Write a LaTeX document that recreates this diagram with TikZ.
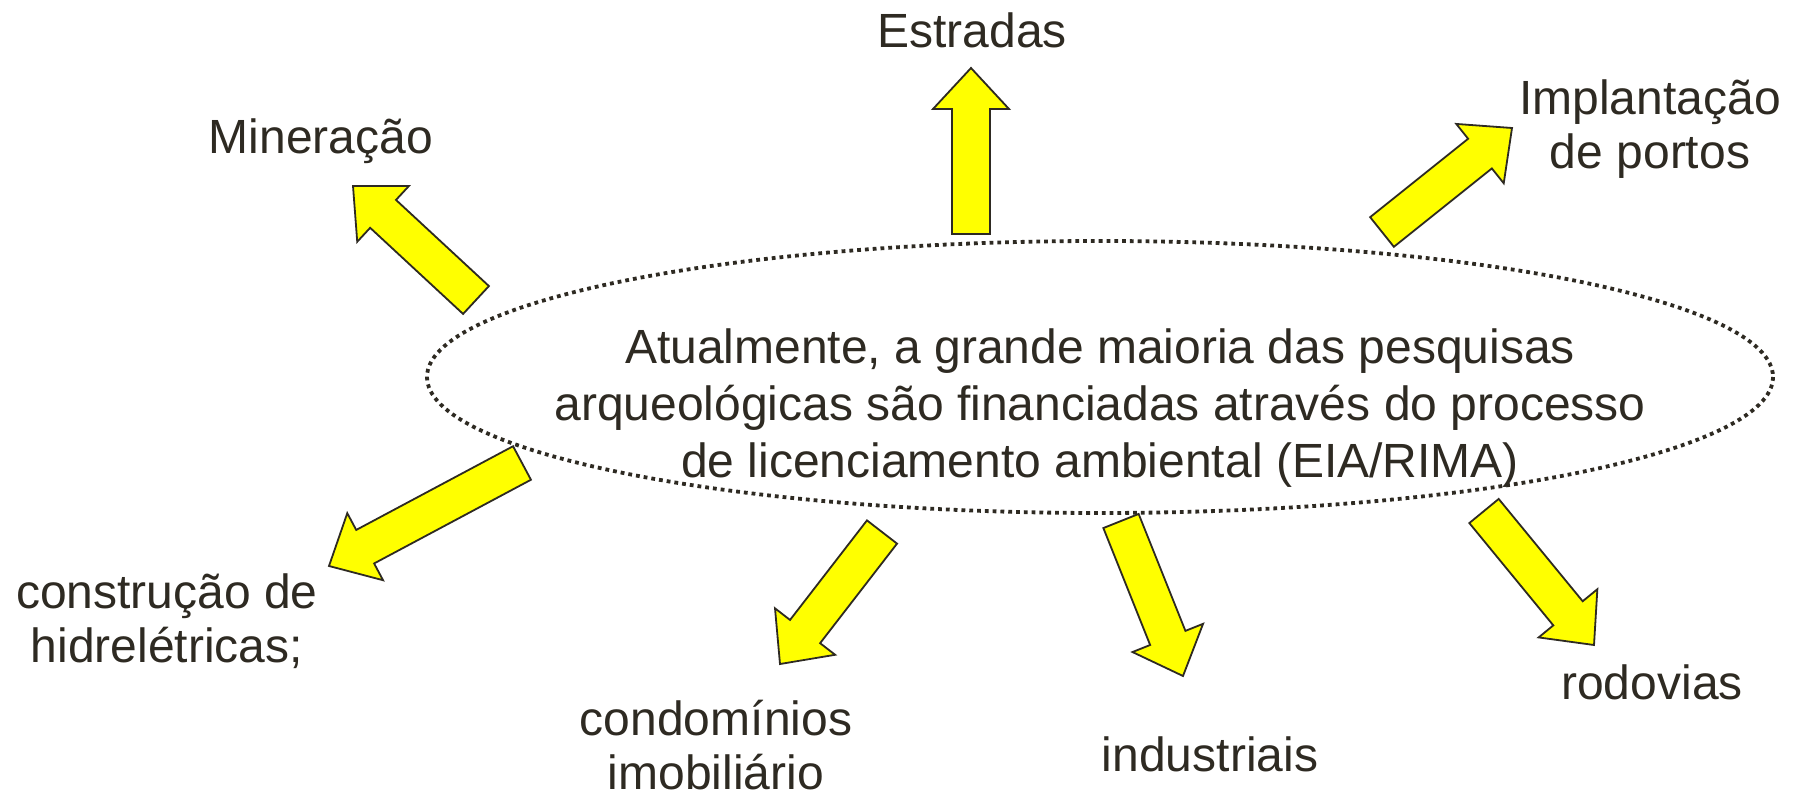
\documentclass[tikz,border=0pt]{standalone}
\usepackage{fontspec}
\setmainfont{Liberation Sans}
\usetikzlibrary{calc}
\definecolor{ink}{RGB}{46,42,34}
\definecolor{arrowyellow}{RGB}{255,255,0}

\newcommand{\bigarrow}[2]{%
  \path ($(#2)!41pt!(#1)$) coordinate (hb);
  \filldraw[blockarrow] ($(#1)!19pt!90:(#2)$) -- ($(hb)!19pt!90:(#2)$) -- ($(hb)!38pt!90:(#2)$) -- (#2)
    -- ($(hb)!38pt!-90:(#2)$) -- ($(hb)!19pt!-90:(#2)$) -- ($(#1)!19pt!-90:(#2)$) -- cycle;
}

\begin{document}
\begin{tikzpicture}[x=1pt,y=-1pt,
    textlabel/.style={text=ink,font=\fontsize{48}{54}\selectfont,align=center,inner sep=0pt},
    blockarrow/.style={draw=ink,fill=arrowyellow,line width=1.8pt,line join=miter},
    dotline/.style={draw=ink,line width=3.8pt,dash pattern=on 3.8pt off 4pt}]
  \useasboundingbox (0,0) rectangle (1799,797);
  \fill[white] (0,0) rectangle (1799,797);

  \coordinate (oval) at (1100,377);
  \draw[dotline] (oval) ellipse [x radius=673, y radius=136];
  \node[textlabel,font=\fontsize{48}{57}\selectfont] (centro) at (1100,408)
    {Atualmente, a grande maioria das pesquisas\\arqueológicas são financiadas através do processo\\de licenciamento ambiental (EIA/RIMA)};

  \node[textlabel] (estradas) at (972,30) {Estradas};
  \node[textlabel] (mineracao) at (321,141) {Mineração};
  \node[textlabel] (portos) at (1650,129) {Implantação\\de portos};
  \node[textlabel] (hidre) at (167,621) {construção de\\hidrelétricas;};
  \node[textlabel] (condo) at (716,745) {condomínios\\imobiliário};
  \node[textlabel] (indus) at (1210,754) {industriais};
  \node[textlabel] (rodovias) at (1652,682) {rodovias};

  \coordinate (estr-a) at (971,234);  \coordinate (estr-b) at (971,68);
  \coordinate (port-a) at (1382,232); \coordinate (port-b) at (1512,128);
  \coordinate (mine-a) at (476,300);  \coordinate (mine-b) at (353,186);
  \coordinate (hidr-a) at (522,463);  \coordinate (hidr-b) at (329,566);
  \coordinate (cond-a) at (882,532);  \coordinate (cond-b) at (780,664);
  \coordinate (indu-a) at (1121,521); \coordinate (indu-b) at (1183,676);
  \coordinate (rodo-a) at (1484,511); \coordinate (rodo-b) at (1594,645);

  \bigarrow{estr-a}{estr-b}
  \bigarrow{port-a}{port-b}
  \bigarrow{mine-a}{mine-b}
  \bigarrow{hidr-a}{hidr-b}
  \bigarrow{cond-a}{cond-b}
  \bigarrow{indu-a}{indu-b}
  \bigarrow{rodo-a}{rodo-b}
\end{tikzpicture}
\end{document}
